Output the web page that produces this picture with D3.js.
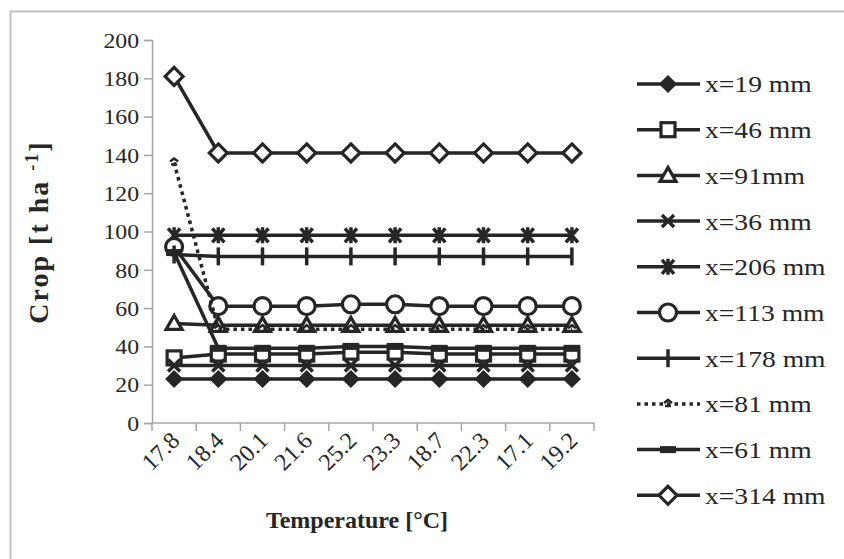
<!DOCTYPE html>
<html><head><meta charset="utf-8">
<script src="https://cdn.jsdelivr.net/npm/d3@7"></script>
<style>body{margin:0;background:#fff}svg{display:block}</style>
</head><body><svg id="c" width="844" height="559"></svg>
<script>
const categories = ["17.8","18.4","20.1","21.6","25.2","23.3","18.7","22.3","17.1","19.2"];
const seriesNames = ["x=19 mm","x=46 mm","x=91mm","x=36 mm","x=206 mm","x=113 mm","x=178 mm","x=81 mm","x=61 mm","x=314 mm"];
const v19  = [23,23,23,23,23,23,23,23,23,23];
const v46  = [34,36,36,36,37,37,36,36,36,36];
const v91  = [52,51,51,51,51,51,51,51,51,51];
const v36  = [30,30,30,30,30,30,30,30,30,30];
const v206 = [98,98,98,98,98,98,98,98,98,98];
const v113 = [92,61,61,61,62,62,61,61,61,61];
const v178 = [88,87,87,87,87,87,87,87,87,87];
const v81  = [136,49,49,49,49,49,49,49,49,49];
const v61  = [89,39,39,39,40,40,39,39,39,39];
const v314 = [181,141,141,141,141,141,141,141,141,141];
const yTicks = [0,20,40,60,80,100,120,140,160,180,200];
const markers = ["diamondFill","square","triangle","x","asterisk","circle","plus","dot","bar","diamondOpen"];
const allValues = [v19,v46,v91,v36,v206,v113,v178,v81,v61,v314];

const FONT = '"Liberation Serif"';
const svg = d3.select("#c");
const ink = "#262626";
svg.append("rect").attr("x",10.5).attr("y",11.5).attr("width",850).attr("height",560)
  .attr("fill","none").attr("stroke","#bfbfbf").attr("stroke-width",2);

const x = d3.scaleBand().domain(categories).range([152,594]);
const y = d3.scaleLinear().domain([0,200]).range([423,40]);

// axes
const gy = svg.append("g").attr("transform","translate(152,0)")
  .call(d3.axisLeft(y).tickValues(yTicks).tickSize(8).tickPadding(6).tickFormat(""));
gy.select(".domain").attr("stroke","#a6a6a6").attr("stroke-width",1.5);
gy.selectAll(".tick line").attr("stroke","#a6a6a6").attr("stroke-width",1.5);
svg.append("g").selectAll("text").data(yTicks).join("text")
  .attr("transform",d=>`translate(139,${y(d)}) scale(1.08,1)`)
  .attr("text-anchor","end").attr("dy","0.35em")
  .style("font-family",FONT).style("font-size","22px").attr("fill",ink).text(d=>d);

const gx = svg.append("g").attr("transform","translate(0,423)")
  .call(d3.axisBottom(x).tickSize(0).tickFormat(""));
gx.select(".domain").attr("stroke","#a6a6a6").attr("stroke-width",1.5).attr("d","M152,0H594");
svg.append("g").selectAll("line").data(d3.range(categories.length+1)).join("line")
  .attr("x1",i=>152+i*x.step()).attr("x2",i=>152+i*x.step())
  .attr("y1",423).attr("y2",431).attr("stroke","#a6a6a6").attr("stroke-width",1.5);
svg.append("g").selectAll("text").data(categories).join("text")
  .attr("transform",d=>`translate(${x(d)+x.bandwidth()/2+7},${442}) rotate(-45)`)
  .attr("text-anchor","end").style("font-family",FONT).style("font-size","24px").attr("fill",ink).text(d=>d);

// titles
svg.append("text").attr("transform","translate(48,232) rotate(-90)").attr("text-anchor","middle")
  .style("font-family",FONT).style("font-size","28px").style("font-weight","bold").style("letter-spacing","2px").attr("fill",ink)
  .html('Crop [t ha <tspan dy="-10" style="font-size:18px">-1</tspan><tspan dy="10">]</tspan>');
svg.append("text").attr("x",357).attr("y",528).attr("text-anchor","middle")
  .style("font-family",FONT).style("font-size","24px").style("font-weight","bold").attr("fill",ink).text("Temperature [°C]");

function drawMarker(g, type){
  const sw = 3.2;
  switch(type){
    case "diamondFill": g.append("path").attr("d","M0,-8L8,0L0,8L-8,0Z").attr("fill",ink).attr("stroke",ink).attr("stroke-width",1.5); break;
    case "diamondOpen": g.append("path").attr("d","M0,-9L9,0L0,9L-9,0Z").attr("fill","#fff").attr("stroke",ink).attr("stroke-width",sw); break;
    case "square": g.append("rect").attr("x",-7).attr("y",-7).attr("width",14).attr("height",14).attr("fill","#fff").attr("stroke",ink).attr("stroke-width",sw); break;
    case "triangle": g.append("path").attr("d","M0,-8L8,6L-8,6Z").attr("fill","#fff").attr("stroke",ink).attr("stroke-width",sw); break;
    case "x": g.append("path").attr("d","M-6,-6L6,6M6,-6L-6,6").attr("stroke",ink).attr("stroke-width",3.5); break;
    case "asterisk": g.append("path").attr("d","M-6,-7L6,7M6,-7L-6,7M0,-8V8").attr("stroke",ink).attr("stroke-width",3.5); break;
    case "circle": g.append("circle").attr("r",8.5).attr("fill","#fff").attr("stroke",ink).attr("stroke-width",sw); break;
    case "plus": g.append("path").attr("d","M0,-9V9").attr("stroke",ink).attr("stroke-width",3.5); break;
    case "dot": g.append("path").attr("d","M-4,-1L0,-4L4,-1M-3,2H3").attr("stroke",ink).attr("stroke-width",2.5).attr("fill","none"); break;
    case "bar": g.append("rect").attr("x",-8).attr("y",-3.5).attr("width",16).attr("height",7).attr("fill",ink); break;
  }
}

const line = d3.line().x((d,i)=>x(categories[i])+x.bandwidth()/2).y(d=>y(d));
allValues.forEach((vals,k)=>{
  const g = svg.append("g");
  g.append("path").datum(vals).attr("d",line).attr("fill","none").attr("stroke",ink)
    .attr("stroke-width",3.5).attr("stroke-dasharray",markers[k]==="dot"?"3.5,4":null);
  vals.forEach((v,i)=>{
    const m = g.append("g").attr("transform",`translate(${x(categories[i])+x.bandwidth()/2},${y(v)})`);
    drawMarker(m, markers[k]);
  });
});

// legend
const legTop = 84, legStep = 45.7;
seriesNames.forEach((name,k)=>{
  const yy = legTop + k*legStep;
  const g = svg.append("g");
  g.append("line").attr("x1",637).attr("x2",700).attr("y1",yy).attr("y2",yy).attr("stroke",ink)
    .attr("stroke-width",3.5).attr("stroke-dasharray",markers[k]==="dot"?"3.5,4":null);
  drawMarker(g.append("g").attr("transform",`translate(668,${yy})`), markers[k]);
  g.append("text").attr("transform",`translate(705,${yy}) scale(1.15,1)`).attr("dy","0.35em").style("font-family",FONT)
    .style("font-size","24px").attr("fill",ink).text(name);
});
</script></body></html>
